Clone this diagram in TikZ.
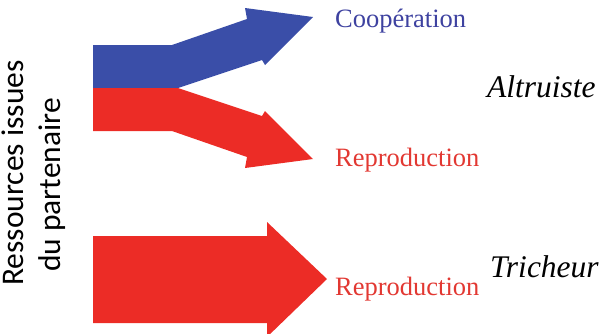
\documentclass[tikz,border=0pt]{standalone}
\usepackage{fontspec}
\setmainfont{Liberation Serif}
\newfontfamily\labelsans{Carlito}
\definecolor{arrowblue}{RGB}{58,78,168}
\definecolor{arrowred}{RGB}{236,44,38}
\definecolor{textblue}{RGB}{62,66,160}
\definecolor{textred}{RGB}{226,56,50}
\tikzset{
  bluearrow/.style={fill=arrowblue, draw=none},
  redarrow/.style={fill=arrowred, draw=none},
  outcome/.style={anchor=base west, inner sep=0pt, font=\fontsize{26.5}{30}\selectfont},
  strategy/.style={anchor=base west, inner sep=0pt, font=\fontsize{31.5}{35}\selectfont\itshape},
  sidelabel/.style={anchor=base, rotate=90, inner sep=0pt, font=\labelsans\fontsize{31.5}{38}\selectfont}
}
\begin{document}
\begin{tikzpicture}[x=1pt,y=-1pt]
\useasboundingbox (0,0) rectangle (601,333);
\clip (0,0) rectangle (601,333);
% blue arrow (cooperation)
\path[bluearrow] (93,45) -- (172,45) -- (247,19) -- (245,8) -- (313,17) -- (265,65) -- (262,60) -- (178,88) -- (93,88) -- cycle;
% red arrow (reproduction, altruist)
\path[redarrow] (93,88) -- (178,88) -- (262,116) -- (265,111) -- (313,159) -- (245,168) -- (247,157) -- (172,131) -- (93,131) -- cycle;
% red arrow (reproduction, cheater)
\path[redarrow] (93,236) -- (267,236) -- (267,222) -- (327,279) -- (267,337) -- (267,323) -- (93,323) -- cycle;
% labels
\node[outcome, text=textblue] (coop) at (335,27) {Coopération};
\node[outcome, text=textred] (repro1) at (335,166) {Reproduction};
\node[outcome, text=textred] (repro2) at (335,295) {Reproduction};
\node[strategy] (altru) at (487,97) {Altruiste};
\node[strategy] (trich) at (490,277) {Tricheur};
\node[sidelabel] (res1) at (23,173) {Ressources issues};
\node[sidelabel] (res2) at (60,185) {du partenaire};
\end{tikzpicture}
\end{document}
